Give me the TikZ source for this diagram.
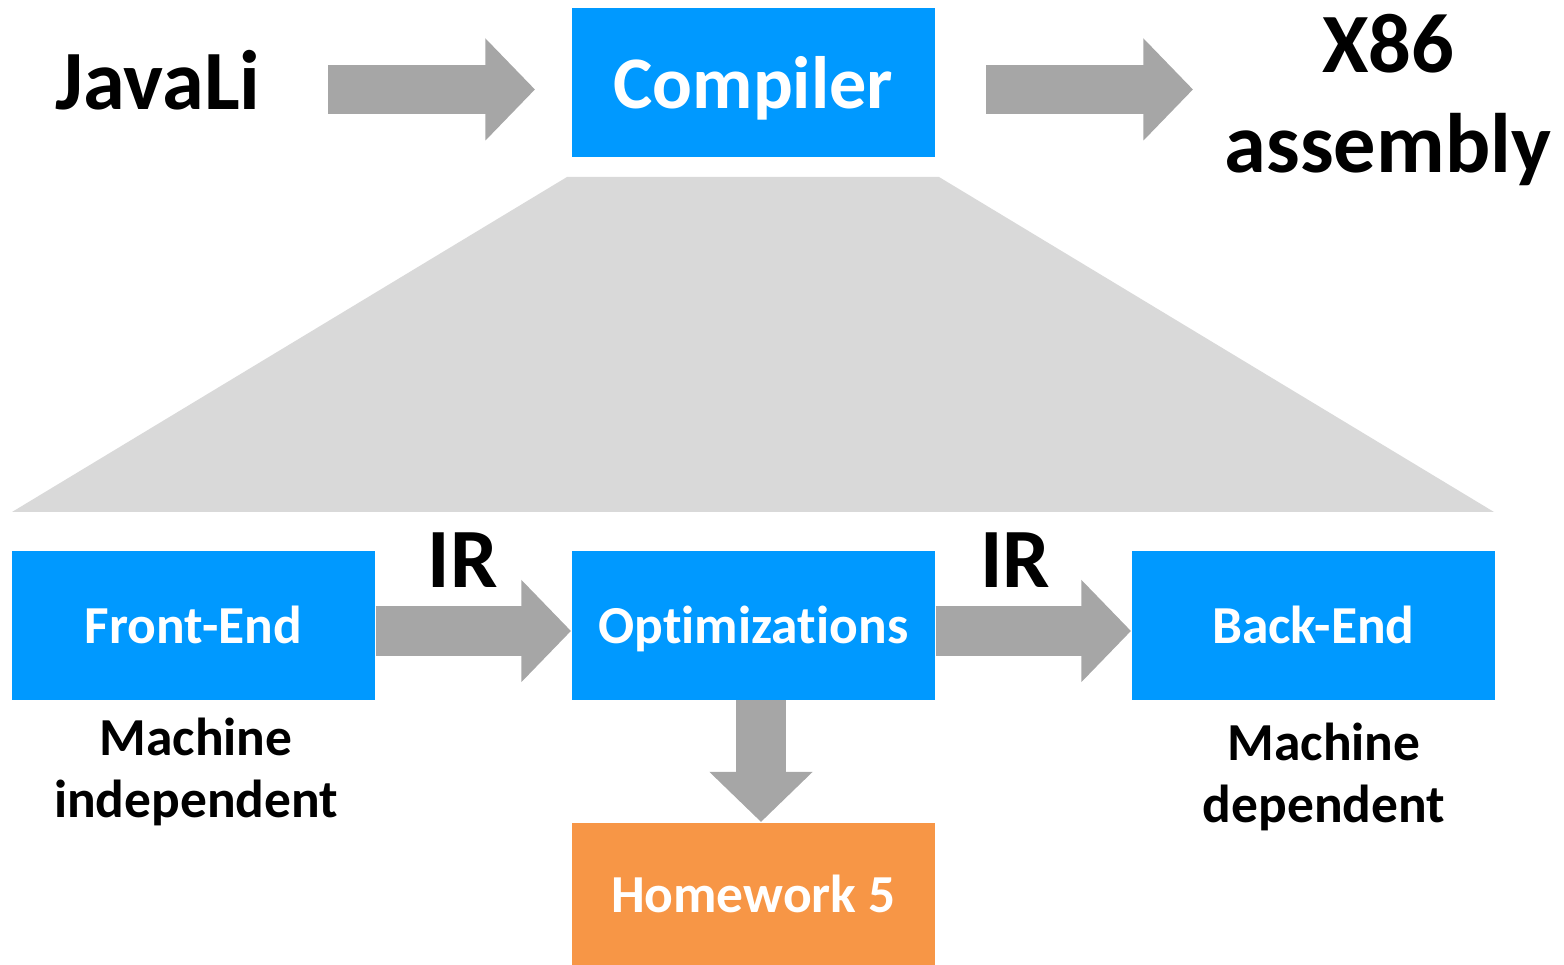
\documentclass[tikz,border=0pt]{standalone}
\usepackage{fontspec}
\setmainfont{Carlito}[Ligatures={NoCommon,NoRare}]
\usetikzlibrary{arrows.meta}
\definecolor{boxblue}{RGB}{0,153,255}
\definecolor{boxorange}{RGB}{247,150,70}
\definecolor{arrowgray}{RGB}{166,166,166}
\definecolor{fangray}{RGB}{217,217,217}
\tikzset{
  stage/.style={fill=boxblue, draw=none, minimum width=3.63cm, minimum height=1.49cm,
    inner sep=0pt, text depth=0pt, text=white, font=\bfseries\fontsize{15.2pt}{18pt}\selectfont},
  bigstage/.style={stage, font=\bfseries\fontsize{21.1pt}{24pt}\selectfont},
  hwstage/.style={stage, fill=boxorange, minimum height=1.42cm},
  label/.style={inner sep=0pt, align=center, text=black},
  biglabel/.style={label, font=\bfseries\fontsize{24pt}{28.5pt}\selectfont},
  smalllabel/.style={label, font=\bfseries\fontsize{15.2pt}{17.6pt}\selectfont},
  blockarrow/.style={draw=arrowgray, line width=0.49cm,
    -{Triangle[length=0.495cm, width=0.99cm]}},
}
\begin{document}
\begin{tikzpicture}[x=0.01cm, y=-0.01cm]
  \useasboundingbox (0,0) rectangle (1564,965);

  % zoom-out fan below the compiler box
  \fill[fangray] (567,177) -- (939,177) -- (1494,512) -- (12,512) -- cycle;

  % top row
  \node[bigstage, anchor=north west] (compiler) at (571,7) {Compiler};
  \node[biglabel] (src) at (158,80) {JavaLi};
  \node[biglabel] (dst) at (1388,100) {X86\\assembly};

  \coordinate (srcend) at (328,89.5);
  \coordinate (compin) at (535,89.5);
  \coordinate (compout) at (986,89.5);
  \coordinate (dstin) at (1193,89.5);
  \draw[blockarrow] (srcend) -- (compin);
  \draw[blockarrow] (compout) -- (dstin);

  % pipeline row
  \node[stage, anchor=north west] (front) at (11,550) {Front-End};
  \node[stage, anchor=north west] (opt) at (571,550) {Optimizations};
  \node[stage, anchor=north west] (back) at (1131,550) {Back-End};
  \node[hwstage, anchor=north west] (hw) at (571,822) {Homework 5};

  \draw[blockarrow] (front.east |- 0,631) -- (opt.west |- 0,631);
  \draw[blockarrow] (opt.east |- 0,631) -- (back.west |- 0,631);
  \draw[draw=arrowgray, line width=0.5cm, -{Triangle[length=0.5cm, width=1cm]}]
    (opt.south -| 761,0) -- (hw.north -| 761,0);

  \node[biglabel] (ir1) at (463,560) {IR};
  \node[biglabel] (ir2) at (1015,560) {IR};

  \node[smalllabel] (fnote) at (196,772) {Machine\\independent};
  \node[smalllabel] (bnote) at (1324,777) {Machine\\dependent};
\end{tikzpicture}
\end{document}
